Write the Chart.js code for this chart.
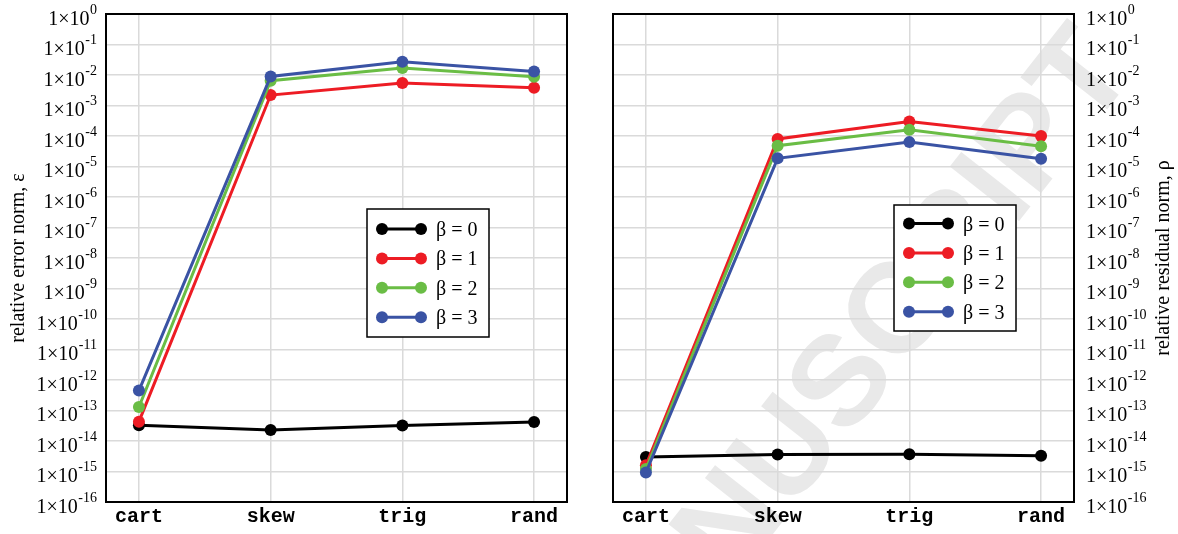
<!DOCTYPE html>
<html>
<head>
<meta charset="utf-8">
<script src="https://cdn.jsdelivr.net/npm/chart.js@4/dist/chart.umd.min.js"></script>
<style>
  html, body { margin: 0; padding: 0; background: #fff; }
  #wrap { position: relative; width: 1178px; height: 534px; }
  #errChart { position: absolute; left: 0; top: 0; }
  #resChart { position: absolute; left: 590px; top: 0; }
</style>
</head>
<body>
<div id="wrap">
  <canvas id="errChart" width="590" height="534"></canvas>
  <canvas id="resChart" width="588" height="534"></canvas>
</div>
<script>
// categorias y series
const metodos = ["cart", "skew", "trig", "rand"];
const betas = ["β = 0", "β = 1", "β = 2", "β = 3"];
const colores = ["#000000", "#ed1c24", "#6abd45", "#3a53a4"];
const exponentes = [0, -1, -2, -3, -4, -5, -6, -7, -8, -9, -10, -11, -12, -13, -14, -15, -16];

// norma de error relativa (izquierda)
const errorB0 = [3.3e-14, 2.3e-14, 3.2e-14, 4.2e-14];
const errorB1 = [4.3e-14, 2.2e-3, 5.5e-3, 3.8e-3];
const errorB2 = [1.3e-13, 6.5e-3, 1.7e-2, 8.7e-3];
const errorB3 = [4.5e-13, 9.0e-3, 2.7e-2, 1.3e-2];

// norma residual relativa (derecha)
const residuoB0 = [3.0e-15, 3.6e-15, 3.7e-15, 3.3e-15];
const residuoB1 = [1.6e-15, 8.0e-5, 3.0e-4, 1.0e-4];
const residuoB2 = [1.2e-15, 4.8e-5, 1.6e-4, 4.6e-5];
const residuoB3 = [9.3e-16, 1.85e-5, 6.3e-5, 1.8e-5];

const serif = "'Liberation Serif', 'Times New Roman', serif";

function series(listas) {
  return listas.map((vals, i) => ({
    label: betas[i],
    data: vals.map((v, k) => ({ x: k, y: v })),
    borderColor: colores[i],
    backgroundColor: colores[i],
    pointBackgroundColor: colores[i],
    pointBorderWidth: 0,
    pointRadius: 6,
    borderWidth: 3,
    order: 3 - i
  }));
}

// marco, etiquetas 1x10^n, titulo del eje, leyenda y marca de agua
const decorado = {
  id: "decorado",
  beforeDraw(chart, args, opts) {
    if (!opts.marca) return;
    const ctx = chart.ctx;
    ctx.save();
    ctx.font = "bold 128px 'Liberation Sans', Arial, sans-serif";
    const ang = -51.8 * Math.PI / 180;
    const antes = ctx.measureText("ACCEPTED MAN").width;
    const wU = ctx.measureText("U").width;
    const dx = antes + wU / 2, dy = -46;
    const ox = opts.marca.x - (dx * Math.cos(ang) - dy * Math.sin(ang));
    const oy = opts.marca.y - (dx * Math.sin(ang) + dy * Math.cos(ang));
    ctx.translate(ox, oy);
    ctx.rotate(ang);
    ctx.fillStyle = "#e9e9e9";
    ctx.textBaseline = "alphabetic";
    ctx.fillText("ACCEPTED MANUSCRIPT", 0, 0);
    ctx.restore();
  },
  afterDraw(chart, args, opts) {
    const ctx = chart.ctx;
    const a = chart.chartArea;
    const ys = chart.scales.y;
    ctx.save();
    ctx.strokeStyle = "#000";
    ctx.lineWidth = 2;
    ctx.strokeRect(a.left, a.top, a.right - a.left, a.bottom - a.top);

    // etiquetas del eje y
    ctx.fillStyle = "#000";
    ctx.textBaseline = "alphabetic";
    exponentes.forEach(e => {
      const y = ys.getPixelForValue(Math.pow(10, e));
      const sup = String(e);
      ctx.font = "14px " + serif;
      const wSup = ctx.measureText(sup).width;
      ctx.font = "20px " + serif;
      const wBase = ctx.measureText("1×10").width;
      let x0;
      if (opts.lado === "left") x0 = a.left - 9 - wSup - wBase - 0.5;
      else x0 = a.right + 12;
      ctx.textAlign = "left";
      ctx.font = "20px " + serif;
      ctx.fillText("1×10", x0, y + 10.5);
      ctx.font = "14px " + serif;
      ctx.fillText(sup, x0 + wBase + 0.5, y - 0.5);
    });

    // titulo del eje
    ctx.save();
    ctx.translate(opts.tituloX, (a.top + a.bottom) / 2);
    ctx.rotate(-Math.PI / 2);
    ctx.font = "20px " + serif;
    ctx.textAlign = "center";
    ctx.textBaseline = "middle";
    ctx.fillText(opts.titulo, 0, 0);
    ctx.restore();

    // leyenda
    const L = opts.leyenda;
    ctx.fillStyle = "#fff";
    ctx.fillRect(L.x, L.y, 122, L.h);
    ctx.strokeStyle = "#000";
    ctx.lineWidth = 1.5;
    ctx.strokeRect(L.x, L.y, 122, L.h);
    chart.data.datasets.forEach((ds, i) => {
      const yy = L.y + L.primera + i * L.paso;
      ctx.strokeStyle = colores[i];
      ctx.fillStyle = colores[i];
      ctx.lineWidth = 3;
      ctx.beginPath();
      ctx.moveTo(L.x + 15, yy);
      ctx.lineTo(L.x + 54, yy);
      ctx.stroke();
      [L.x + 15, L.x + 54].forEach(cx => {
        ctx.beginPath();
        ctx.arc(cx, yy, 6, 0, Math.PI * 2);
        ctx.fill();
      });
      ctx.fillStyle = "#000";
      ctx.font = "20px " + serif;
      ctx.textAlign = "left";
      ctx.textBaseline = "alphabetic";
      ctx.fillText(ds.label, L.x + 69, yy + 7);
    });
    ctx.restore();
  }
};

function opciones(lado, anchoEje, relleno, extra) {
  return {
    responsive: false,
    animation: false,
    layout: { padding: relleno },
    plugins: {
      legend: { display: false },
      tooltip: { enabled: false },
      decorado: Object.assign({ lado: lado }, extra)
    },
    scales: {
      x: {
        type: "linear",
        min: -0.25,
        max: 3.25,
        afterBuildTicks: s => { s.ticks = metodos.map((m, i) => ({ value: i })); },
        afterFit: s => { s.height = 32; },
        grid: { color: "#dadada", lineWidth: 1.5, drawTicks: false },
        border: { display: false },
        ticks: {
          callback: v => metodos[v],
          color: "#000",
          font: { family: "'Liberation Mono', 'Courier New', monospace", weight: "bold", size: 20 },
          padding: 3,
          maxRotation: 0,
          autoSkip: false
        }
      },
      y: {
        type: "logarithmic",
        position: lado,
        min: 1e-16,
        max: 1,
        afterBuildTicks: s => { s.ticks = exponentes.map(e => ({ value: Math.pow(10, e) })); },
        afterFit: s => { s.width = anchoEje; },
        grid: { color: "#dadada", lineWidth: 1.5, drawTicks: false },
        border: { display: false },
        ticks: { display: false }
      }
    }
  };
}

new Chart(document.getElementById("errChart"), {
  type: "line",
  data: { datasets: series([errorB0, errorB1, errorB2, errorB3]) },
  options: opciones("left", 106, { left: 0, right: 23, top: 14, bottom: 0 }, {
    titulo: "relative error norm, ε",
    tituloX: 19,
    leyenda: { x: 367, y: 209, h: 128, primera: 20, paso: 29.4 }
  }),
  plugins: [decorado]
});

new Chart(document.getElementById("resChart"), {
  type: "line",
  data: { datasets: series([residuoB0, residuoB1, residuoB2, residuoB3]) },
  options: opciones("right", 104, { left: 23, right: 0, top: 14, bottom: 0 }, {
    titulo: "relative residual norm, ρ",
    tituloX: 574,
    leyenda: { x: 304, y: 205, h: 126, primera: 18.5, paso: 29.4 },
    marca: { x: 192, y: 448 }
  }),
  plugins: [decorado]
});
</script>
</body>
</html>
